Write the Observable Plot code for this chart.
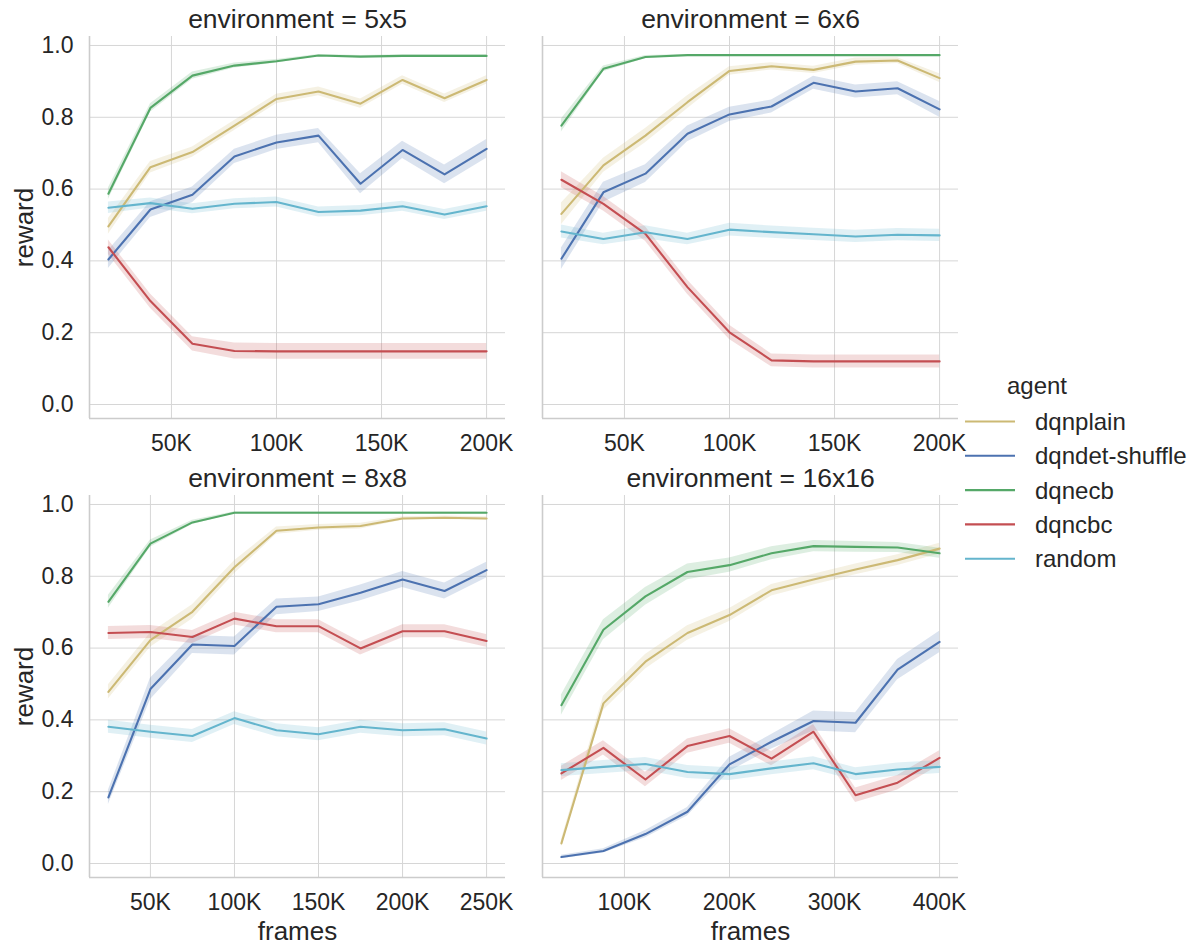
<!DOCTYPE html>
<html>
<head>
<meta charset="utf-8">
<script src="https://cdn.jsdelivr.net/npm/d3@7"></script>
<script src="https://cdn.jsdelivr.net/npm/@observablehq/plot@0.6"></script>
<style>
  html, body { margin: 0; padding: 0; background: #ffffff; }
  #chart { position: relative; width: 1194px; height: 947px; overflow: hidden; background: #ffffff;
           font-family: "Liberation Sans", Arial, Helvetica, sans-serif; color: #262626; }
  #chart > .panel { position: absolute; }
  #chart svg { overflow: visible; }
</style>
</head>
<body>
<div id="chart"></div>
<script>
// Agents, in hue order, with the seaborn "deep" colours
const agents = ["dqnplain", "dqndet-shuffle", "dqnecb", "dqncbc", "random"];
const agentColors = ["#ccb974", "#4c72b0", "#55a868", "#c44e52", "#64b5cd"];

// Training frames at which each environment was evaluated
const frames5x5 = [20000, 40000, 60000, 80000, 100000, 120000, 140000, 160000, 180000, 200000];
const frames6x6 = [20000, 40000, 60000, 80000, 100000, 120000, 140000, 160000, 180000, 200000];
const frames8x8 = [25000, 50000, 75000, 100000, 125000, 150000, 175000, 200000, 225000, 250000];
const frames16x16 = [40000, 80000, 120000, 160000, 200000, 240000, 280000, 320000, 360000, 400000];

// Mean reward per agent
const reward5x5 = {
  "dqnplain":       [0.496, 0.661, 0.703, 0.777, 0.851, 0.872, 0.838, 0.904, 0.853, 0.904],
  "dqndet-shuffle": [0.404, 0.543, 0.584, 0.691, 0.730, 0.749, 0.615, 0.709, 0.641, 0.712],
  "dqnecb":         [0.587, 0.826, 0.916, 0.944, 0.956, 0.972, 0.969, 0.971, 0.971, 0.971],
  "dqncbc":         [0.438, 0.288, 0.169, 0.149, 0.148, 0.148, 0.148, 0.148, 0.148, 0.148],
  "random":         [0.548, 0.561, 0.545, 0.559, 0.564, 0.536, 0.540, 0.552, 0.529, 0.552]
};
const reward6x6 = {
  "dqnplain":       [0.531, 0.666, 0.749, 0.842, 0.929, 0.942, 0.932, 0.955, 0.958, 0.909],
  "dqndet-shuffle": [0.406, 0.591, 0.643, 0.754, 0.808, 0.830, 0.896, 0.872, 0.881, 0.822],
  "dqnecb":         [0.777, 0.935, 0.968, 0.973, 0.973, 0.973, 0.973, 0.973, 0.973, 0.973],
  "dqncbc":         [0.626, 0.559, 0.475, 0.327, 0.201, 0.123, 0.120, 0.120, 0.120, 0.120],
  "random":         [0.482, 0.461, 0.480, 0.461, 0.487, 0.480, 0.474, 0.468, 0.473, 0.471]
};
const reward8x8 = {
  "dqnplain":       [0.478, 0.622, 0.701, 0.825, 0.927, 0.936, 0.940, 0.961, 0.963, 0.961],
  "dqndet-shuffle": [0.184, 0.486, 0.610, 0.606, 0.715, 0.722, 0.754, 0.791, 0.759, 0.817],
  "dqnecb":         [0.729, 0.891, 0.950, 0.977, 0.977, 0.977, 0.977, 0.977, 0.977, 0.977],
  "dqncbc":         [0.642, 0.645, 0.631, 0.682, 0.661, 0.661, 0.599, 0.647, 0.647, 0.620],
  "random":         [0.381, 0.367, 0.355, 0.405, 0.371, 0.360, 0.381, 0.371, 0.374, 0.348]
};
const reward16x16 = {
  "dqnplain":       [0.056, 0.446, 0.562, 0.642, 0.692, 0.761, 0.791, 0.819, 0.845, 0.877],
  "dqndet-shuffle": [0.018, 0.035, 0.082, 0.144, 0.276, 0.339, 0.397, 0.392, 0.540, 0.617],
  "dqnecb":         [0.441, 0.651, 0.744, 0.812, 0.831, 0.864, 0.884, 0.882, 0.880, 0.864],
  "dqncbc":         [0.251, 0.322, 0.234, 0.327, 0.355, 0.292, 0.367, 0.190, 0.225, 0.294],
  "random":         [0.260, 0.269, 0.277, 0.255, 0.249, 0.265, 0.279, 0.249, 0.262, 0.269]
};

// Half-width of the 95% confidence band around each mean
const ci5x5 = {
  "dqnplain":       [0.022, 0.016, 0.014, 0.014, 0.013, 0.012, 0.013, 0.012, 0.012, 0.012],
  "dqndet-shuffle": [0.025, 0.022, 0.022, 0.020, 0.020, 0.020, 0.028, 0.024, 0.026, 0.026],
  "dqnecb":         [0.016, 0.012, 0.010, 0.007, 0.005, 0.003, 0.003, 0.003, 0.003, 0.003],
  "dqncbc":         [0.020, 0.020, 0.020, 0.022, 0.022, 0.022, 0.022, 0.022, 0.022, 0.022],
  "random":         [0.016, 0.014, 0.014, 0.014, 0.014, 0.014, 0.014, 0.014, 0.014, 0.014]
};
const ci6x6 = {
  "dqnplain":       [0.030, 0.020, 0.020, 0.018, 0.012, 0.010, 0.010, 0.010, 0.008, 0.012],
  "dqndet-shuffle": [0.030, 0.028, 0.025, 0.022, 0.020, 0.018, 0.018, 0.018, 0.018, 0.022],
  "dqnecb":         [0.018, 0.008, 0.004, 0.002, 0.002, 0.002, 0.002, 0.002, 0.002, 0.002],
  "dqncbc":         [0.022, 0.020, 0.020, 0.020, 0.020, 0.018, 0.018, 0.018, 0.018, 0.018],
  "random":         [0.018, 0.016, 0.018, 0.016, 0.018, 0.017, 0.017, 0.017, 0.017, 0.017]
};
const ci8x8 = {
  "dqnplain":       [0.020, 0.020, 0.020, 0.018, 0.010, 0.008, 0.008, 0.005, 0.005, 0.005],
  "dqndet-shuffle": [0.020, 0.030, 0.025, 0.025, 0.022, 0.020, 0.022, 0.022, 0.022, 0.022],
  "dqnecb":         [0.018, 0.010, 0.006, 0.003, 0.003, 0.003, 0.003, 0.003, 0.003, 0.003],
  "dqncbc":         [0.018, 0.018, 0.018, 0.018, 0.018, 0.018, 0.018, 0.018, 0.018, 0.018],
  "random":         [0.018, 0.018, 0.018, 0.018, 0.018, 0.018, 0.018, 0.018, 0.018, 0.018]
};
const ci16x16 = {
  "dqnplain":       [0.010, 0.020, 0.020, 0.020, 0.018, 0.016, 0.015, 0.015, 0.015, 0.015],
  "dqndet-shuffle": [0.005, 0.006, 0.010, 0.012, 0.020, 0.020, 0.028, 0.028, 0.028, 0.030],
  "dqnecb":         [0.028, 0.028, 0.025, 0.022, 0.020, 0.018, 0.016, 0.015, 0.014, 0.014],
  "dqncbc":         [0.020, 0.020, 0.020, 0.020, 0.020, 0.020, 0.020, 0.020, 0.020, 0.020],
  "random":         [0.018, 0.018, 0.018, 0.018, 0.018, 0.018, 0.018, 0.018, 0.018, 0.018]
};

// Tick values
const xTicks200 = [50000, 100000, 150000, 200000];
const xTicks250 = [50000, 100000, 150000, 200000, 250000];
const xTicks400 = [100000, 200000, 300000, 400000];
const yTicks = [0, 0.2, 0.4, 0.6, 0.8, 1.0];

const FONT = "\"Liberation Sans\", Arial, Helvetica, sans-serif";
const INK = "#262626";
const yDomain = [-0.039, 1.025];
const frameW = 416, frameH = 382;
const mL = 88, mR = 40, mT = 40, mB = 70;

const panels = [
  {env: "5x5",   frames: frames5x5,   reward: reward5x5,   ci: ci5x5,   xTicks: xTicks200, col: 0, row: 0},
  {env: "6x6",   frames: frames6x6,   reward: reward6x6,   ci: ci6x6,   xTicks: xTicks200, col: 1, row: 0},
  {env: "8x8",   frames: frames8x8,   reward: reward8x8,   ci: ci8x8,   xTicks: xTicks250, col: 0, row: 1},
  {env: "16x16", frames: frames16x16, reward: reward16x16, ci: ci16x16, xTicks: xTicks400, col: 1, row: 1}
];
const frameLeft = [89, 542];
const frameTop = [36, 495];

const chart = document.getElementById("chart");

for (const p of panels) {
  // Long-format rows for this environment
  const rows = [];
  for (const agent of agents) {
    p.frames.forEach((f, i) => {
      const m = p.reward[agent][i], h = p.ci[agent][i];
      rows.push({agent, frames: f, reward: m, lo: m - h, hi: m + h});
    });
  }
  const [fmin, fmax] = d3.extent(p.frames);
  const pad = 0.05 * (fmax - fmin);
  const xDomain = [fmin - pad, fmax + pad];
  const isLeft = p.col === 0, isBottom = p.row === 1;

  const marks = [
    Plot.ruleX(p.xTicks, {stroke: "#d6d6d6", strokeWidth: 1}),
    Plot.ruleY(yTicks, {stroke: "#d6d6d6", strokeWidth: 1}),
    Plot.ruleX([xDomain[0]], {stroke: "#cccccc", strokeWidth: 1.6}),
    Plot.ruleY([yDomain[0]], {stroke: "#cccccc", strokeWidth: 1.6}),
    Plot.areaY(rows, {x: "frames", y1: "lo", y2: "hi", z: "agent", fill: "agent", fillOpacity: 0.2}),
    Plot.line(rows, {x: "frames", y: "reward", z: "agent", stroke: "agent", strokeWidth: 2.1}),
    Plot.text([`environment = ${p.env}`], {frameAnchor: "top", lineAnchor: "bottom", dy: -9,
      fontSize: 26.5, fill: INK})
  ];
  if (isBottom) {
    marks.push(Plot.text(["frames"], {frameAnchor: "bottom", lineAnchor: "bottom", dy: 62,
      fontSize: 26, fill: INK}));
  }
  if (isLeft) {
    marks.push(Plot.text(["reward"], {frameAnchor: "left", dx: -65, rotate: -90,
      textAnchor: "middle", lineAnchor: "middle", fontSize: 26, fill: INK}));
  }

  const svg = Plot.plot({
    width: mL + frameW + mR,
    height: mT + frameH + mB,
    marginLeft: mL, marginRight: mR, marginTop: mT, marginBottom: mB,
    style: {background: "transparent", fontFamily: FONT, fontSize: "23px", color: INK, overflow: "visible"},
    x: {domain: xDomain, ticks: p.xTicks, tickFormat: d => `${d / 1000}K`, tickSize: 0, tickPadding: 16, label: null},
    y: isLeft
      ? {domain: yDomain, ticks: yTicks, tickFormat: d3.format(".1f"), tickSize: 0, tickPadding: 16, label: null}
      : {domain: yDomain, axis: null},
    color: {domain: agents, range: agentColors},
    marks
  });
  const wrap = document.createElement("div");
  wrap.className = "panel";
  wrap.style.left = `${frameLeft[p.col] - mL}px`;
  wrap.style.top = `${frameTop[p.row] - mT}px`;
  wrap.appendChild(svg);
  chart.appendChild(wrap);
}

// Legend for the agent hue
const legend = d3.create("svg")
  .attr("width", 244).attr("height", 220)
  .style("position", "absolute").style("left", "950px").style("top", "360px")
  .style("overflow", "visible")
  .style("font-family", FONT);
legend.append("text")
  .attr("x", 87).attr("y", 26).attr("text-anchor", "middle").attr("dy", "0.35em")
  .attr("font-size", 24).attr("fill", INK).text("agent");
agents.forEach((a, i) => {
  const y = 61.5 + i * 34.3;
  legend.append("line").attr("x1", 15).attr("x2", 65).attr("y1", y).attr("y2", y)
    .attr("stroke", agentColors[i]).attr("stroke-width", 2.1);
  legend.append("text").attr("x", 85).attr("y", y).attr("dy", "0.35em")
    .attr("font-size", 24).attr("fill", INK).text(a);
});
chart.appendChild(legend.node());
</script>
</body>
</html>
